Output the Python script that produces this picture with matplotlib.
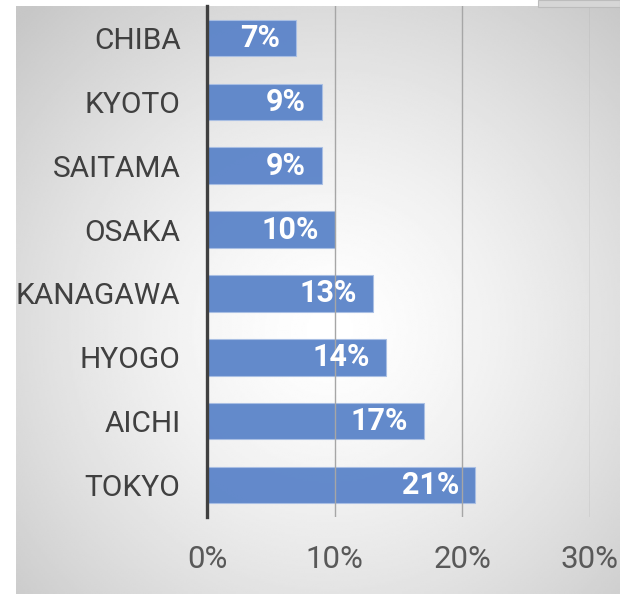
import numpy as np
import matplotlib
matplotlib.use('Agg')
import matplotlib.pyplot as plt
from matplotlib.patches import Rectangle

# data, top to bottom as shown
prefectures = ['CHIBA', 'KYOTO', 'SAITAMA', 'OSAKA', 'KANAGAWA', 'HYOGO', 'AICHI', 'TOKYO']
shares = [7, 9, 9, 10, 13, 14, 17, 21]
x_ticks = [0, 10, 20, 30]
x_tick_labels = ['0%', '10%', '20%', '30%']

W, H = 620, 594
fig = plt.figure(figsize=(W / 100, H / 100), dpi=100)
fig.patch.set_facecolor('white')

# radial gradient background of the chart area
bg_left, bg_top = 16, 6
bg = fig.add_axes([bg_left / W, 0, 1 - bg_left / W, 1 - bg_top / H])
bg.set_axis_off()
gx = np.linspace(bg_left, W, 300)
gy = np.linspace(bg_top, H, 300)
XX, YY = np.meshgrid(gx, gy)
r = np.sqrt(((XX - 330) / 440) ** 2 + ((YY - 330) / 440) ** 2)
shade = 1.0 - 0.22 * np.clip(r, 0, 1) ** 1.4
bg.imshow(shade, cmap='gray', vmin=0, vmax=1, extent=[0, 1, 0, 1],
          aspect='auto', interpolation='bilinear')
bg.set_xlim(0, 1)
bg.set_ylim(0, 1)

# small box cut off at the top right
fig.patches.append(Rectangle((538 / W, 1 - 7 / H), (W - 538) / W, 7 / H,
                             transform=fig.transFigure, facecolor='#d6d6d6',
                             edgecolor='#bcbcbc', lw=0.8))

ax = fig.add_axes([207 / W, 1 - 517 / H, (590 - 207) / W, 511 / H])
ax.patch.set_alpha(0)

font = ['Roboto', 'DejaVu Sans']

y = np.arange(len(prefectures))
ax.barh(y, shares, height=0.57, color='#5b84c9', edgecolor='#a9bfe4',
        linewidth=0.8, alpha=0.95, zorder=2)

for yi, v in zip(y, shares):
    ax.text(v - 1.25, yi, f'{v}%', color='white', fontsize=22, fontweight='bold',
            ha='right', va='center', family=font, zorder=4)

ax.set_xlim(0, 30)
ax.set_ylim(len(prefectures) - 0.5, -0.5)
ax.set_xticks(x_ticks)
ax.set_xticklabels(x_tick_labels)
ax.set_yticks(y)
ax.set_yticklabels(prefectures)

for t in x_ticks[1:]:
    ax.axvline(t, color='#a6a6a6', lw=1, zorder=3)
ax.axvline(0, color='#404040', lw=2.4, zorder=5, clip_on=False)

for s in ax.spines.values():
    s.set_visible(False)
ax.tick_params(length=0)
ax.tick_params(axis='x', pad=20, labelsize=22.5, labelcolor='#595959')
ax.tick_params(axis='y', pad=19, labelsize=21.5, labelcolor='#404040')
for lab in ax.get_xticklabels() + ax.get_yticklabels():
    lab.set_family(font)

fig.savefig('out.png', dpi=100)
